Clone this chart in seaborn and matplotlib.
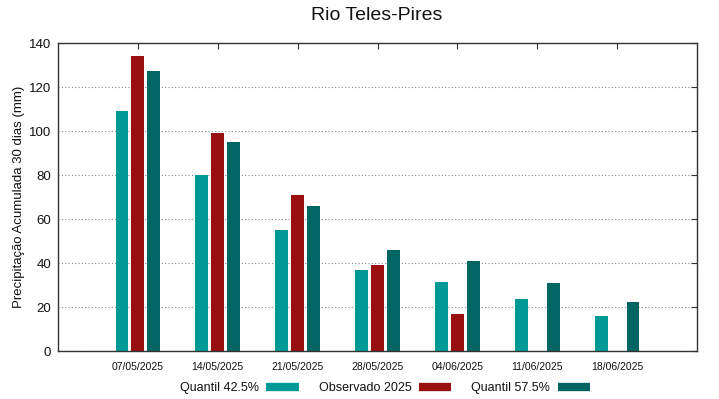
import numpy as np
import pandas as pd
import matplotlib
matplotlib.use("Agg")
import matplotlib.pyplot as plt
from matplotlib.lines import Line2D
import seaborn as sns

# ----------------------------------------------------------
# Data
# ----------------------------------------------------------
datas = ["07/05/2025", "14/05/2025", "21/05/2025", "28/05/2025",
         "04/06/2025", "11/06/2025", "18/06/2025"]
quantil_425 = [109, 80, 55, 37, 31.5, 23.5, 16]
observado_2025 = [134, 99, 71, 39, 17, np.nan, np.nan]
quantil_575 = [127.5, 95, 66, 46, 41, 31, 22.5]

series = ["Quantil 42.5%", "Observado 2025", "Quantil 57.5%"]
cores = ["#009a96", "#990e0e", "#006563"]

df = pd.DataFrame({
    "data": datas * 3,
    "valor": quantil_425 + observado_2025 + quantil_575,
    "serie": [series[0]] * 7 + [series[1]] * 7 + [series[2]] * 7,
})

sns.set_style("white")
plt.rcParams["font.family"] = ["Liberation Sans", "DejaVu Sans"]
plt.rcParams["text.color"] = "#111111"
plt.rcParams["axes.labelcolor"] = "#111111"
plt.rcParams["xtick.labelcolor"] = "#111111"
plt.rcParams["ytick.labelcolor"] = "#111111"

fig, ax = plt.subplots(figsize=(7.19, 3.99), dpi=100)
fig.subplots_adjust(left=58 / 719, right=697 / 719, top=1 - 43 / 399, bottom=1 - 351 / 399)

sns.barplot(data=df, x="data", y="valor", hue="serie", hue_order=series,
            palette=cores, width=0.6, gap=0.2, errorbar=None,
            saturation=1, legend=False, linewidth=0, ax=ax)

ax.set_xlim(-1, 7)
ax.set_ylim(0, 140)
ax.set_yticks(range(0, 141, 20))
ax.yaxis.grid(True, linestyle=(0, (1, 2)), color="#888888", linewidth=0.8)
ax.set_axisbelow(True)

ax.tick_params(axis="both", direction="in", top=True, right=True,
               length=4.5, width=0.8, color="#333333")
ax.tick_params(axis="x", labelsize=7.5, pad=8)
ax.tick_params(axis="y", labelsize=9.5, pad=5)
for s in ax.spines.values():
    s.set_color("#333333")
    s.set_linewidth(1)

ax.set_xlabel("")
ax.set_ylabel("Precipitação Acumulada 30 dias (mm)", fontsize=9.5, labelpad=3)
fig.text(377 / 719, 1 - 15.5 / 399, "Rio Teles-Pires", ha="center", va="center", fontsize=14)

handles = [Line2D([0], [0], color=c, lw=6, solid_capstyle="butt") for c in cores]
fig.legend(handles, series, loc="center", bbox_to_anchor=(385 / 719, 1 - 388 / 399),
           ncol=3, frameon=False, fontsize=9, markerfirst=False,
           handlelength=2.6, handletextpad=0.6, columnspacing=1.6)

fig.savefig("out.png", dpi=100)
